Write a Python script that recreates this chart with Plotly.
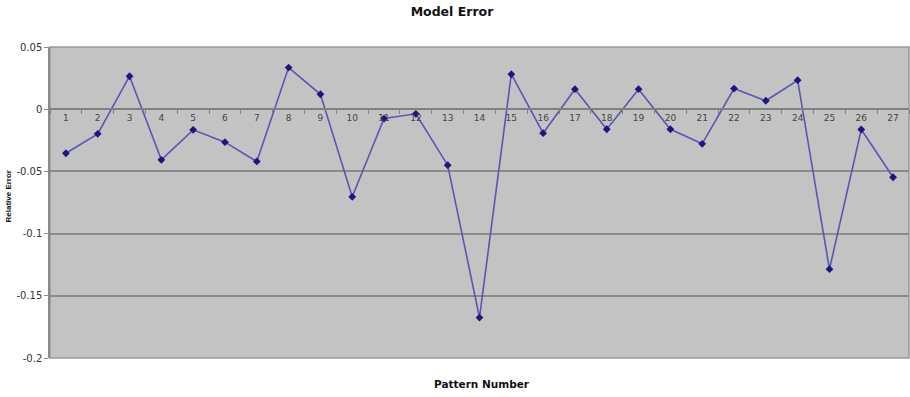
import plotly.graph_objects as go

patterns = [str(i) for i in range(1, 28)]
relative_error = [-0.0354, -0.0198, 0.0265, -0.0407, -0.0166, -0.0265, -0.042, 0.0335, 0.012,
                  -0.0704, -0.0075, -0.0037, -0.045, -0.1675, 0.0281, -0.0193, 0.0161, -0.0161,
                  0.0161, -0.0161, -0.0278, 0.0166, 0.0068, 0.0233, -0.1286, -0.0163, -0.0547]
y_tick_vals = [0.05, 0, -0.05, -0.1, -0.15, -0.2]
y_tick_text = ["0.05", "0", "-0.05", "-0.1", "-0.15", "-0.2"]
y_range = [-0.2, 0.05]

font = "DejaVu Sans, Arial, sans-serif"
W, H = 910, 397
L, R, T, B = 50, 1, 47, 39
pw = W - L - R
ph = H - T - B

fig = go.Figure()
fig.add_trace(go.Scatter(
    x=patterns, y=relative_error, mode="lines+markers",
    line=dict(color="#5a55b5", width=1.6),
    marker=dict(symbol="diamond", size=6, color="#1c1780"),
    showlegend=False,
))

zero_pos = (0 - y_range[0]) / (y_range[1] - y_range[0])

fig.update_layout(
    width=W, height=H,
    margin=dict(l=L, r=R, t=T, b=B),
    paper_bgcolor="white",
    plot_bgcolor="#c3c3c3",
    title=dict(text="<b>Model Error</b>", x=452 / W, xanchor="center",
               y=1 - 12 / H, yanchor="middle",
               font=dict(family=font, size=12.5, color="#111")),
    xaxis=dict(
        type="category", anchor="free", position=zero_pos, range=[-0.5, len(patterns) - 0.5],
        automargin=False,
        showgrid=False, showline=True, linecolor="#808080", linewidth=1.5,
        ticks="outside", tickson="boundaries", ticklen=4, tickcolor="#808080",
        tickfont=dict(family=font, size=9, color="#444"),
        zeroline=False,
    ),
    yaxis=dict(
        range=y_range, tickvals=y_tick_vals, ticktext=y_tick_text, automargin=False,
        showgrid=True, gridcolor="#8a8a8a", gridwidth=1.5,
        showline=True, linecolor="#8a8a8a", linewidth=1.5,
        ticks="outside", ticklen=4, tickcolor="#8a8a8a",
        tickfont=dict(family=font, size=10, color="#333"),
        zeroline=False,
    ),
    annotations=[
        dict(text="<b>Pattern Number</b>", x=(482 - L) / pw, y=(H - B - 384) / ph,
             xref="paper", yref="paper", xanchor="center", yanchor="middle", showarrow=False,
             font=dict(family=font, size=10.5, color="#111")),
        dict(text="<b>Relative Error</b>", x=(7.5 - L) / pw, y=(H - B - 197) / ph,
             xref="paper", yref="paper", xanchor="center", yanchor="middle", showarrow=False,
             textangle=-90,
             font=dict(family="Liberation Sans, Arial, sans-serif", size=8, color="#111")),
    ],
)

fig.add_shape(type="rect", xref="paper", yref="paper", x0=0, x1=1, y0=0, y1=1,
              line=dict(color="#9a9a9a", width=1.5), layer="below")

fig.write_html("out.html", config={"displayModeBar": False},
               post_script="document.body.style.margin='0px';")
